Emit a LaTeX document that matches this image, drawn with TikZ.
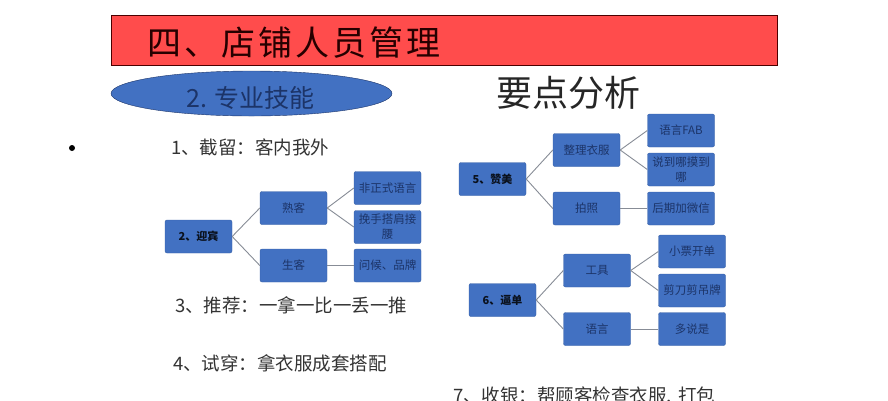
\documentclass[tikz,border=0pt]{standalone}
\usepackage{fontspec}
\usepackage{xcolor}
\usetikzlibrary{shapes.geometric}
\setmainfont{Noto Sans CJK SC}
\definecolor{boxblue}{RGB}{66,113,194}
\definecolor{boxtext}{RGB}{28,52,104}
\definecolor{titlered}{RGB}{255,76,76}
\definecolor{linkgray}{RGB}{135,140,150}
\tikzset{
    treebox/.style={draw=boxblue!85!black,fill=boxblue,rounded corners=2pt,minimum width=67pt,minimum height=33pt,inner sep=1pt,text width=64pt,align=center,text=boxtext,font=\fontsize{11.5}{15}\selectfont},
    rootbox/.style={treebox,text=black!85!boxblue,font=\fontsize{11}{15}\selectfont\bfseries},
    link/.style={draw=linkgray,line width=0.9pt},
    bodytext/.style={anchor=west,inner sep=0pt,text=black!80,font=\fontsize{18.5}{20}\selectfont}
}
\begin{document}
\begin{tikzpicture}[x=1pt,y=-1pt]
    \useasboundingbox (0,0) rectangle (888,400);

    % Title bar
    \node[draw=black!70!red,fill=titlered,minimum width=666pt,minimum height=50pt,inner sep=0pt] (titlebar) at (444,40) {};
    \node[anchor=west,inner sep=0pt,text=black!85!red,font=\fontsize{34}{40}\selectfont\addfontfeature{LetterSpace=9}] (titletext) at (147,43) {四、店铺人员管理};

    % Ellipse and heading
    \node[draw=boxtext,fill=boxblue,ellipse,minimum width=281pt,minimum height=45pt,inner sep=0pt] (skillshape) at (251.5,93.5) {};
    \node[text=boxtext,inner sep=0pt,font=\fontsize{25}{30}\selectfont] (skilltext) at (250.5,98) {2. 专业技能};
    \node[text=black!85,inner sep=0pt,font=\fontsize{36}{42}\selectfont] (keypoints) at (568,93) {要点分析};

    % Bullet
    \node[fill=black,circle,minimum size=6pt,inner sep=0pt] (bullet) at (72,148) {};

    % Steps
    \node[bodytext] (stepone) at (171,147) {1、截留：客内我外};
    \node[bodytext] (stepthree) at (175,305) {3、推荐：一拿一比一丢一推};
    \node[bodytext] (stepfour) at (173,363) {4、试穿：拿衣服成套搭配};
    \node[bodytext] (stepseven) at (453,396) {7、收银：帮顾客检查衣服,\kern6pt 打包};

    % Greeting tree
    \node[rootbox] (greet) at (198.5,236.5) {2、迎宾};
    \node[treebox] (familiar) at (293.5,208) {熟客};
    \node[treebox] (stranger) at (293.5,265.5) {生客};
    \node[treebox] (casual) at (387.5,188) {非正式语言};
    \node[treebox] (touch) at (387.5,227) {挽手搭肩接\\腰};
    \node[treebox] (hello) at (387.5,265.5) {问候、品牌};

    % Praise tree
    \node[rootbox] (praise) at (492.5,179) {5、赞美};
    \node[treebox] (tidy) at (586.5,150) {整理衣服};
    \node[treebox] (photo) at (586.5,208.5) {拍照};
    \node[treebox] (fab) at (681,130.5) {语言FAB};
    \node[treebox] (speak) at (681,169.5) {说到哪摸到\\哪};
    \node[treebox] (wechat) at (681,208.5) {后期加微信};

    % Closing tree
    \node[rootbox] (close) at (502.5,300) {6、逼单};
    \node[treebox] (tool) at (597,270.5) {工具};
    \node[treebox] (words) at (597,329) {语言};
    \node[treebox] (receipt) at (692,251.5) {小票开单};
    \node[treebox] (scissors) at (692,290.5) {剪刀剪吊牌};
    \node[treebox] (yes) at (692,329) {多说是};

    % Links
    \foreach \from/\to in {greet/familiar, greet/stranger, familiar/casual, familiar/touch, stranger/hello,
        praise/tidy, praise/photo, tidy/fab, tidy/speak, photo/wechat,
        close/tool, close/words, tool/receipt, tool/scissors, words/yes} {
        \draw[link] (\from.east) -- (\to.west);
    }
\end{tikzpicture}
\end{document}
